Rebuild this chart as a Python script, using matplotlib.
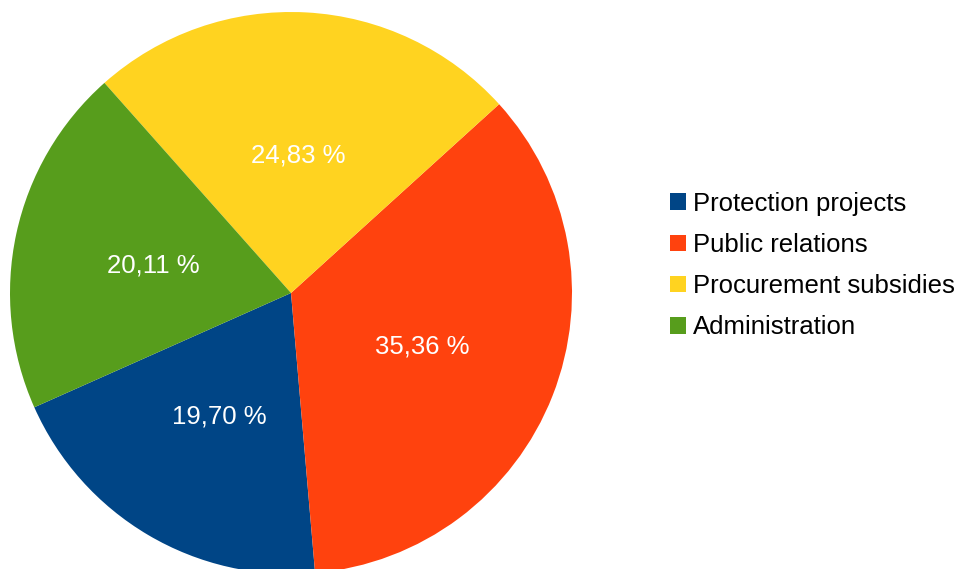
import matplotlib
matplotlib.use('Agg')
import matplotlib.pyplot as plt
from matplotlib.patches import Patch
import numpy as np

categories = ['Protection projects', 'Public relations', 'Procurement subsidies', 'Administration']
shares = [19.70, 35.36, 24.83, 20.11]
labels = ['19,70 %', '35,36 %', '24,83 %', '20,11 %']
colors = ['#004586', '#ff420e', '#ffd320', '#579d1c']

plt.rcParams['font.family'] = ['Liberation Sans', 'DejaVu Sans']

fig = plt.figure(figsize=(9.6, 5.69), dpi=100)
# pie centre ~ (291, 293) px, radius ~281 px
cx, cy, r = 291, 569 - 293, 281
ax = fig.add_axes([(cx - r) / 960, (cy - r) / 569, 2 * r / 960, 2 * r / 569])
wedges, _ = ax.pie(shares, colors=colors, startangle=204, counterclock=True,
                   radius=1, wedgeprops=dict(linewidth=0))
for w in wedges:
    w.set_clip_on(False)
ax.set_xlim(-1, 1)
ax.set_ylim(-1, 1)
ax.set_aspect('auto')
ax.axis('off')

start = 204
for val, lab in zip(shares, labels):
    mid = np.deg2rad(start + val * 3.6 / 2)
    ax.text(0.5 * np.cos(mid), 0.5 * np.sin(mid), lab, color='white',
            fontsize=18.5, ha='center', va='center_baseline')
    start += val * 3.6

handles = [Patch(facecolor=c, edgecolor='none') for c in colors]
fig.legend(handles, categories, loc='center left', bbox_to_anchor=(670 / 960, 1 - 265.5 / 569),
           frameon=False, fontsize=18.5, handlelength=0.62, handleheight=0.62,
           handletextpad=0.27, labelspacing=0.67, borderpad=0, borderaxespad=0)

fig.savefig('out.png', dpi=100)
